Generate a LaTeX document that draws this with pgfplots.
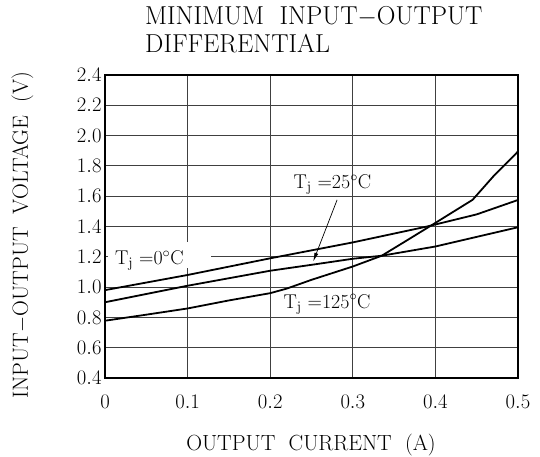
\documentclass[border=0pt]{standalone}
\usepackage{pgfplots}
\pgfplotsset{compat=1.18}
\usetikzlibrary{arrows.meta}

\newcommand{\tk}{\fontsize{21}{24}\selectfont}
\newcommand{\lb}{\fontsize{22}{25}\selectfont}
\newcommand{\an}{\fontsize{20}{23}\selectfont}

\begin{document}
\begin{tikzpicture}
\useasboundingbox (-105bp,-79bp) rectangle (435bp,378bp);

% title
\node[anchor=base west, font=\fontsize{26}{30}\selectfont, inner sep=0pt] at (40bp,353bp)
  {MINIMUM\hspace{0.6em}INPUT$-$OUTPUT};
\node[anchor=base west, font=\fontsize{26}{30}\selectfont, inner sep=0pt] at (40bp,325bp)
  {DIFFERENTIAL};

\begin{axis}[
    at={(0,0)}, anchor=south west,
    scale only axis,
    width=413bp, height=303bp,
    xmin=0, xmax=0.5, ymin=0.4, ymax=2.4,
    xtick={0,0.1,...,0.5},
    ytick={0.4,0.6,...,2.4},
    major tick length=0pt,
    grid=major,
    major grid style={black!75, line width=0.8pt},
    axis line style={line width=1.8pt},
    x tick label style={font=\tk, yshift=-14bp},
    y tick label style={font=\tk, /pgf/number format/fixed,
        /pgf/number format/fixed zerofill, /pgf/number format/precision=1},
    xticklabel style={/pgf/number format/fixed},
    clip=false,
]

% white box behind the 0 C label
\fill[white] (axis cs:0.004,1.125) rectangle (axis cs:0.128,1.30);

% T_j = 0 C
\addplot[black, line width=1.8pt] coordinates {
(0,0.98) (0.1,1.08) (0.2,1.19) (0.3,1.295) (0.39,1.40) (0.45,1.48) (0.5,1.575)
};
% T_j = 25 C
\addplot[black, line width=1.8pt] coordinates {
(0,0.90) (0.1,1.009) (0.2,1.108) (0.25,1.147) (0.3,1.187) (0.335,1.207)
(0.4,1.268) (0.5,1.395)
};
% T_j = 125 C
\addplot[black, line width=1.8pt] coordinates {
(0,0.778) (0.05,0.818) (0.1,0.859) (0.15,0.912) (0.2,0.96) (0.22,0.99)
(0.25,1.048) (0.3,1.136) (0.335,1.207) (0.36,1.29) (0.395,1.407)
(0.445,1.576) (0.47,1.73) (0.5,1.895)
};

\draw[-{Latex[length=9pt,width=4pt]}, line width=0.7pt] (axis cs:0.281,1.576) -- (axis cs:0.252,1.168);

\node[anchor=base west, font=\an, inner sep=0pt] at (axis cs:0.012,1.147) {T$_\mathrm{j}$ =0$^\circ$C};
\node[anchor=base west, font=\an, inner sep=0pt] at (axis cs:0.228,1.65) {T$_\mathrm{j}$ =25$^\circ$C};
\node[anchor=base west, font=\an, inner sep=0pt] at (axis cs:0.216,0.86) {T$_\mathrm{j}$ =125$^\circ$C};
\end{axis}

\node[anchor=base, font=\lb, inner sep=0pt] at (206bp,-72bp)
  {OUTPUT\hspace{0.6em}CURRENT\hspace{0.6em}(A)};
\node[anchor=base, rotate=90, font=\lb, inner sep=0pt] at (-77bp,143bp)
  {INPUT$-$OUTPUT\hspace{0.6em}VOLTAGE\hspace{0.6em}(V)};
\end{tikzpicture}
\end{document}
